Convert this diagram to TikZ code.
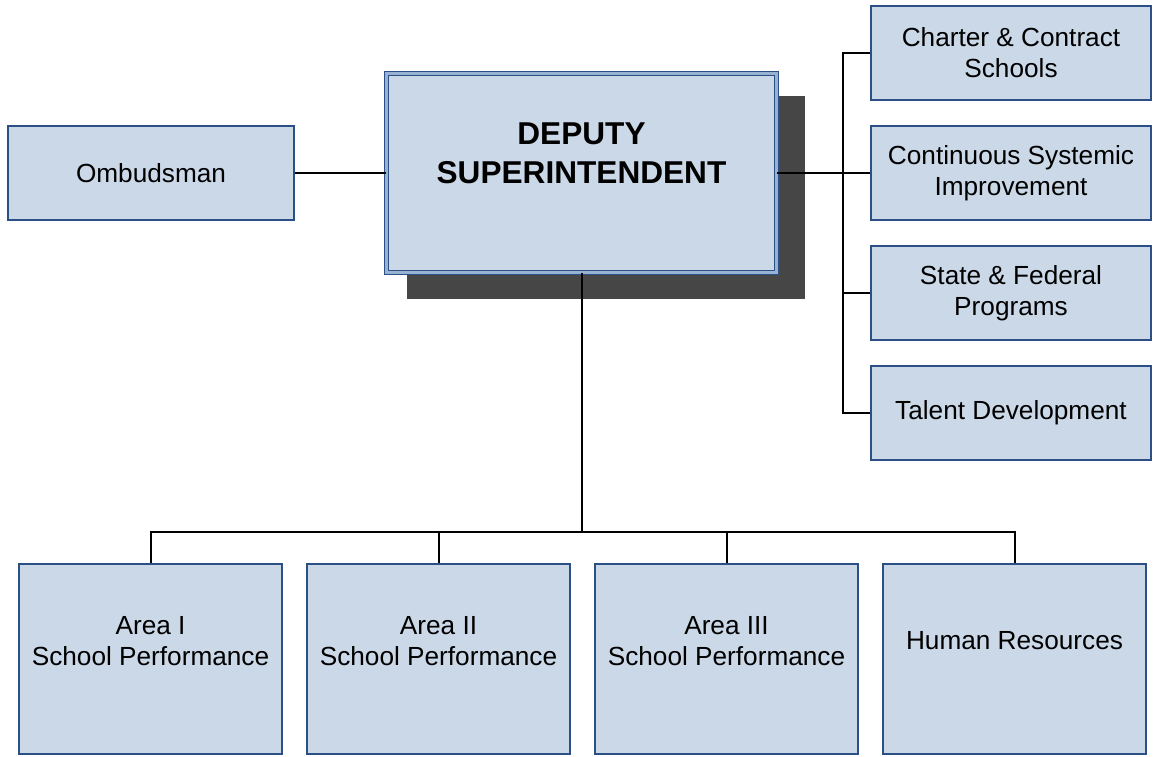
\documentclass[tikz,border=0pt]{standalone}
\usepackage{fontspec}
\setmainfont{Liberation Sans}
\usepackage{tikz}
\usetikzlibrary{positioning, shadows}
\definecolor{boxfill}{HTML}{CBD8E7}
\definecolor{boxline}{HTML}{2C5085}
\definecolor{boxband}{HTML}{98B2D3}
\definecolor{shade}{HTML}{464646}
\tikzstyle{unit} = [rectangle, draw=boxline, line width=1pt, fill=boxfill, minimum width=143pt, minimum height=47pt, text centered, align=center, inner sep=0pt, font=\fontsize{13.1}{15.5}\selectfont]
\tikzstyle{side} = [unit, minimum width=140pt]
\tikzstyle{area} = [unit, minimum width=131.5pt, minimum height=95pt]
\tikzstyle{chief} = [rectangle, draw=boxline, double=boxband, double distance=1.3pt, line width=0.8pt, fill=boxfill, minimum width=195pt, minimum height=99.5pt, drop shadow={shadow xshift=12pt, shadow yshift=-12pt, shadow scale=1.02, fill=shade, opacity=1}]
\tikzstyle{tag} = [align=center, inner sep=0pt, font=\fontsize{13.1}{15.5}\selectfont]
\tikzstyle{bigtag} = [align=center, inner sep=0pt, font=\fontsize{15.8}{19.5}\selectfont\bfseries]
\tikzstyle{line} = [draw, line width=1pt]

\begin{document}
\begin{tikzpicture}[x=0.5pt, y=-0.5pt]
	\useasboundingbox (0,0) rectangle (1154,756);

	% Deputy and its staff
	\node(dep)  [chief] at (581.5,173) {};
	\node(deptext) [bigtag, yshift=10pt] at (dep.center) {DEPUTY\\SUPERINTENDENT};
	\node(omb)  [unit, left of=dep, node distance=215.25pt] {Ombudsman};

	% Right column
	\node(r2)  [side, right of=dep, node distance=214.75pt] {Continuous Systemic\\Improvement};
	\node(r1)  [side, above of=r2, node distance=60pt] {Charter \& Contract\\Schools};
	\node(r3)  [side, below of=r2, node distance=60pt] {State \& Federal\\Programs};
	\node(r4)  [side, below of=r3, node distance=60pt] {Talent Development};

	% Bottom row
	\node(a1)  [area, below of=dep, node distance=243pt, xshift=-215.5pt] {};
	\node(a2)  [area, right of=a1, node distance=144pt] {};
	\node(a3)  [area, right of=a2, node distance=144pt] {};
	\node(a4)  [area, right of=a3, node distance=144pt] {};
	\node(a1text) [tag, yshift=9pt] at (a1.center) {Area I\\School Performance};
	\node(a2text) [tag, yshift=9pt] at (a2.center) {Area II\\School Performance};
	\node(a3text) [tag, yshift=9pt] at (a3.center) {Area III\\School Performance};
	\node(a4text) [tag, yshift=9pt] at (a4.center) {Human Resources};

	% Draw edges
	\coordinate (rbus) at (843,173);
	\coordinate (bbus) at (581.5,532);
	\path [line] (omb) -- (dep);
	\path [line] (dep) -- (rbus);
	\path [line] (rbus) |- (r1.west);
	\path [line] (rbus) |- (r2.west);
	\path [line] (rbus) |- (r3.west);
	\path [line] (rbus) |- (r4.west);
	\path [line] (dep) -- (bbus);
	\path [line] (bbus) -| (a1.north);
	\path [line] (bbus) -| (a2.north);
	\path [line] (bbus) -| (a3.north);
	\path [line] (bbus) -| (a4.north);

\end{tikzpicture}
\end{document}
